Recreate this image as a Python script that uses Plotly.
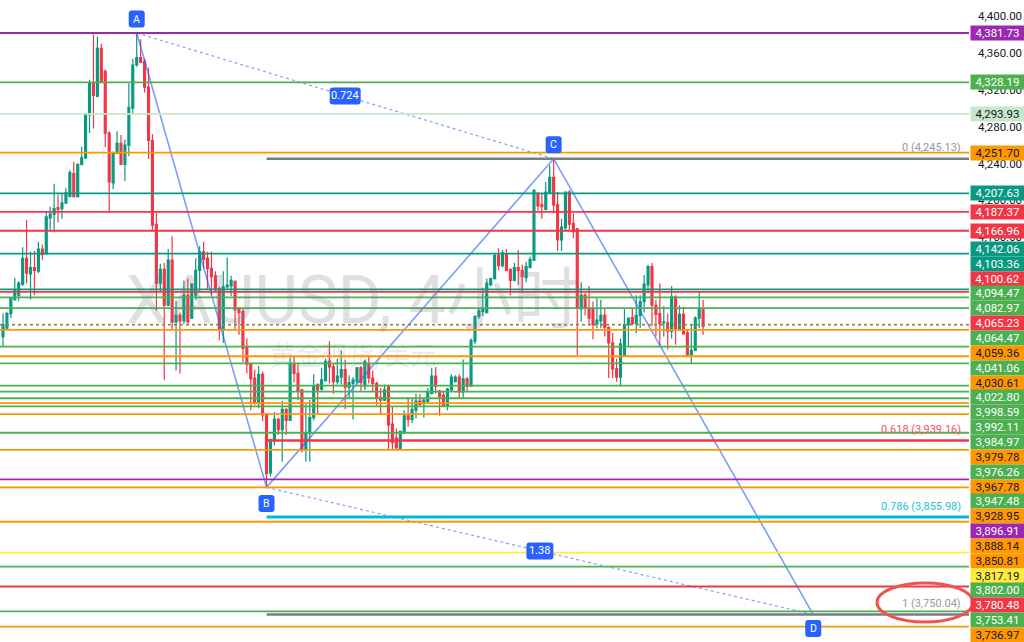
import plotly.graph_objects as go

# XAUUSD 4h candles
opens = [4052,4061,4077,4092,4097,4109,4137,4120,4127,4123,
         4147,4142,4181,4185,4192,4191,4197,4204,4229,4204,
         4239,4246,4293,4328,4313,4365,4340,4273,4219,4251,
         4262,4239,4260,4300,4347,4355,4351,4323,4265,4174,
         4110,4125,4086,4135,4068,4075,4069,4097,4072,4097,
         4124,4144,4137,4126,4118,4104,4059,4106,4107,4112,
         4083,4079,4040,4023,4007,3980,4011,3968,3904,3939,
         3962,3951,3973,3961,4023,4012,3994,3929,3947,3964,
         4000,3995,4004,4025,4019,4003,4008,4016,3997,4001,
         4003,4018,3998,4022,4007,4001,3986,3983,3998,3957,
         3942,3930,3948,3966,3962,3972,3982,3979,3981,3990,
         4009,3993,3988,3976,3994,4003,4008,3992,4006,3998,
         4047,4074,4079,4078,4108,4115,4140,4129,4142,4125,
         4113,4127,4124,4116,4127,4135,4207,4195,4190,4208,
         4225,4195,4157,4170,4209,4175,4169,4082,4097,4083,
         4082,4066,4069,4075,4062,4045,4017,4008,4031,4065,
         4073,4066,4075,4090,4108,4128,4086,4077,4067,4067,
         4058,4095,4059,4076,4056,4032,4037,4072,4082]
highs = [4077,4079,4095,4116,4112,4149,4179,4144,4145,4155,
         4152,4188,4193,4218,4206,4208,4213,4233,4242,4240,
         4258,4294,4331,4380,4378,4370,4342,4275,4253,4275,
         4271,4266,4327,4354,4381.73,4375,4354,4344,4272,4187,
         4131,4132,4147,4161,4091,4078,4113,4115,4110,4137,
         4150,4155,4144,4144,4123,4106,4123,4138,4118,4113,
         4084,4083,4050,4023,4016,4020,4014,3969,3940,3970,
         3964,3982,3974,4029,4030,4022,3995,3980,3983,4011,
         4001,4018,4028,4047,4023,4028,4037,4027,4010,4008,
         4019,4020,4027,4030,4015,4003,3996,4000,4000,3976,
         3952,3950,3972,3986,3985,3990,3990,3985,3996,4018,
         4019,3994,3993,3996,4011,4010,4011,4027,4008,4050,
         4075,4082,4105,4115,4116,4142,4148,4146,4147,4126,
         4132,4146,4130,4133,4139,4211,4209,4208,4220,4238,
         4245.13,4209,4180,4209,4211,4186,4170,4111,4099,4107,
         4090,4095,4092,4082,4063,4056,4028,4050,4082,4072,
         4082,4097,4097,4119,4130,4132,4092,4110,4085,4077,
         4107,4097,4086,4084,4059,4065,4074,4100,4092]
lows = [4041,4060,4072,4091,4091,4107,4110,4092,4097,4121,
        4135,4141,4168,4165,4176,4180,4196,4204,4203,4203,
        4238,4245,4273,4278,4313,4329,4258,4188,4212,4250,
        4238,4221,4248,4293,4345,4349,4317,4245,4168,4080,
        4101,4005,4085,4059,4015,4012,4066,4066,4071,4092,
        4101,4126,4104,4097,4101,4048,4045,4104,4096,4059,
        4054,4024,4012,3972,3978,3974,3960,3888,3900,3934,
        3945,3916,3945,3961,4002,3983,3926,3916,3916,3961,
        3967,3993,4003,4001,3990,4000,4000,3973,3985,3962,
        4001,3992,3994,4001,3992,3977,3968,3982,3929,3929,
        3930,3929,3946,3954,3958,3963,3978,3964,3980,3990,
        3990,3966,3976,3972,3992,4002,3985,3985,3992,3998,
        4044,4071,4074,4077,4107,4114,4124,4127,4124,4097,
        4112,4108,4099,4111,4126,4134,4189,4180,4189,4208,
        4186,4145,4145,4168,4168,4159,4032,4068,4075,4065,
        4049,4061,4061,4052,4007,4007,4003,3998,4030,4041,
        4065,4056,4061,4078,4099,4063,4052,4041,4052,4038,
        4050,4043,4058,4055,4030,4023,4036,4061,4054]
closes = [4065,4077,4094,4103,4110,4137,4121,4127,4124,4147,
          4141,4182,4185,4191,4190,4197,4208,4230,4204,4239,
          4246,4294,4328,4314,4365,4329,4273,4220,4251,4262,
          4239,4260,4301,4347,4355,4350,4323,4265,4173,4110,
          4125,4086,4135,4068,4075,4069,4097,4068,4109,4124,
          4144,4136,4126,4117,4103,4059,4106,4108,4113,4081,
          4078,4039,4022,4006,3980,4011,3967,3903,3940,3962,
          3951,3973,3961,4023,4012,3993,3929,3947,3964,3998,
          3994,4005,4025,4019,4003,4009,4016,3997,4002,4005,
          4018,4002,4025,4007,4001,3985,3983,3994,3956,3937,
          3931,3949,3966,3962,3973,3982,3978,3983,3992,4009,
          3998,3987,3976,3995,4008,4008,3992,4006,3998,4048,
          4074,4080,4082,4110,4115,4140,4129,4143,4124,4113,
          4127,4124,4117,4128,4136,4211,4194,4193,4209,4225,
          4195,4157,4171,4209,4174,4166,4083,4097,4083,4072,
          4065,4070,4075,4062,4045,4017,4008,4044,4065,4072,
          4066,4075,4090,4109,4128,4086,4076,4066,4068,4058,
          4095,4060,4076,4055,4032,4037,4072,4083,4063]
bars = list(range(len(opens)))

# horizontal levels with their price tag colours
level_prices = [4381.73,4328.19,4293.93,4251.70,4207.63,4187.37,4166.96,4142.06,4103.36,
                4100.62,4094.47,4082.97,4065.23,4064.47,4059.36,4041.06,4030.61,4022.80,
                3998.59,3992.11,3984.97,3979.78,3976.26,3967.78,3947.48,3928.95,3896.91,
                3888.14,3850.81,3817.19,3802.00,3780.48,3753.41,3736.97]
level_names = ["purple","green","pale","orange","teal","red","red","teal","teal",
               "red","green","green","red","green","orange","green","orange","green",
               "green","green","green","orange","green","orange","green","orange","purple",
               "orange","orange","yellow","green","red","green","orange"]
colors = {"purple": "#9C27B0", "green": "#4CAF50", "pale": "#C8E6C9", "orange": "#FF9800",
          "teal": "#089981", "red": "#F23645", "yellow": "#FFEB3B"}
dark_text = ["pale", "orange", "yellow"]
dotted_levels = [4065.23, 4064.47]

y_ticks = [4400, 4360, 4320, 4280, 4240, 4200, 4160]

# ABCD pattern
pattern_names = ["A", "B", "C", "D"]
pattern_x = [34, 67, 140, 206]
pattern_y = [4381.73, 3888.14, 4245.13, 3750.04]

# fib levels
fib_ratios = ["0", "0.618", "0.786", "1"]
fib_prices = [4245.13, 3939.16, 3855.98, 3750.04]
fib_colors = ["#787B86", "#F23645", "#00BCD4", "#787B86"]
fib_text_colors = ["#9598A1", "#F7525F", "#22C3D8", "#9598A1"]
fib_widths = [2.5, 2.5, 3, 2.5]

WIDTH, HEIGHT = 1024, 642
PLOT_W = 969
X_RANGE = [-0.76, 245.6]
Y_RANGE = [3720.2, 4417.6]
PX_PRICE = (Y_RANGE[1] - Y_RANGE[0]) / HEIGHT

BLUE = "#2962FF"


def round_box(x, y, w, h, up, color=BLUE, r=3):
    # rounded label box, sized in pixels around a data point
    y0 = up - h / 2
    y1 = up + h / 2
    x0 = -w / 2
    x1 = w / 2
    path = (f"M {x0+r} {y0} L {x1-r} {y0} Q {x1} {y0} {x1} {y0+r} L {x1} {y1-r} "
            f"Q {x1} {y1} {x1-r} {y1} L {x0+r} {y1} Q {x0} {y1} {x0} {y1-r} "
            f"L {x0} {y0+r} Q {x0} {y0} {x0+r} {y0} Z")
    return dict(type="path", xref="x", yref="y", xsizemode="pixel", ysizemode="pixel",
                xanchor=x, yanchor=y, path=path, fillcolor=color, line=dict(width=0))


def stack_tags(prices):
    # push tags down from the top, then back up from the bottom of the window
    gap = 14.85 * PX_PRICE
    order = sorted(prices, reverse=True)
    pos = []
    for p in order:
        pos.append(min(p, pos[-1] - gap) if pos else p)
    floor = Y_RANGE[0] + 7 * PX_PRICE
    for k in range(len(pos) - 1, -1, -1):
        limit = floor if k == len(pos) - 1 else pos[k + 1] + gap
        pos[k] = max(pos[k], limit)
    return dict(zip(order, pos))


fig = go.Figure()
fig.add_trace(go.Candlestick(x=bars, open=opens, high=highs, low=lows, close=closes,
                             increasing_line_color="#089981", increasing_fillcolor="#089981",
                             decreasing_line_color="#F23645", decreasing_fillcolor="#F23645",
                             increasing_line_width=1.2, decreasing_line_width=1.2,
                             whiskerwidth=0, hoverinfo="skip"))
fig.add_trace(go.Scatter(x=pattern_x, y=pattern_y, mode="lines", hoverinfo="skip",
                         line=dict(color="rgba(41,98,255,0.62)", width=1.6)))
for a, b in [(0, 2), (1, 3)]:
    fig.add_trace(go.Scatter(x=[pattern_x[a], pattern_x[b]], y=[pattern_y[a], pattern_y[b]],
                             mode="lines", hoverinfo="skip",
                             line=dict(color="rgba(41,98,255,0.6)", width=1.2, dash="dot")))

shapes = []
annotations = []

# watermark
annotations.append(dict(xref="x", yref="y", x=89, y=4092, text="XAUUSD, 4小时", showarrow=False,
                        font=dict(family="Roboto, Noto Sans CJK SC", size=67, color="rgba(120,123,134,0.24)")))
annotations.append(dict(xref="x", yref="y", x=89, y=4034, text="黄金现货/美元", showarrow=False,
                        font=dict(family="Noto Sans CJK SC", size=26, color="rgba(120,123,134,0.16)")))

for price, name in zip(level_prices, level_names):
    line = dict(color=colors[name], width=1.8)
    if price in dotted_levels:
        line = dict(color=colors[name], width=1, dash="dot")
    shapes.append(dict(type="line", xref="paper", yref="y", x0=0, x1=1, y0=price, y1=price, line=line))

for ratio, price, color, text_color, width in zip(fib_ratios, fib_prices, fib_colors, fib_text_colors, fib_widths):
    shapes.append(dict(type="line", xref="x", yref="y", x0=pattern_x[1], x1=X_RANGE[1], y0=price, y1=price,
                       line=dict(color=color, width=width)))
    annotations.append(dict(xref="paper", yref="y", x=1, y=price, xanchor="right", xshift=-6, yshift=11,
                            showarrow=False, text=f"{ratio} ({price:,.2f})",
                            font=dict(family="Roboto", size=11, color=text_color)))

# price tags on the axis
tag_pos = stack_tags(level_prices)
for price, name in zip(level_prices, level_names):
    annotations.append(dict(xref="paper", yref="y", x=1, y=tag_pos[price], xanchor="left", xshift=1,
                            width=53, height=14.4, borderpad=0, showarrow=False, bgcolor=colors[name],
                            text=f"{price:,.2f}",
                            font=dict(family="Roboto", size=11.5,
                                      color="#131722" if name in dark_text else "#FFFFFF")))

# pattern point labels
ups = [14, -16, 14, -14]
for name, x, y, up in zip(pattern_names, pattern_x, pattern_y, ups):
    shapes.append(round_box(x, y, 16, 17, up))
    annotations.append(dict(xref="x", yref="y", x=x, y=y, yshift=up, showarrow=False, text=name,
                            font=dict(family="Roboto", size=10.5, color="#FFFFFF")))

# ratio labels at the middle of the dotted legs
for text, a, b in [("0.724", 0, 2), ("1.38", 1, 3)]:
    mx = (pattern_x[a] + pattern_x[b]) / 2
    my = (pattern_y[a] + pattern_y[b]) / 2
    shapes.append(round_box(mx, my, 31 if text == "0.724" else 27, 17, 0))
    annotations.append(dict(xref="x", yref="y", x=mx, y=my, showarrow=False, text=text,
                            font=dict(family="Roboto", size=11, color="#FFFFFF")))

# red ellipse round the last fib level
shapes.append(dict(type="circle", xref="paper", yref="paper",
                   x0=877 / PLOT_W, x1=973 / PLOT_W, y0=1 - 622 / HEIGHT, y1=1 - 583 / HEIGHT,
                   line=dict(color="#EF5350", width=3)))

fig.update_layout(
    width=WIDTH, height=HEIGHT, showlegend=False,
    paper_bgcolor="white", plot_bgcolor="white",
    margin=dict(l=0, r=WIDTH - PLOT_W, t=0, b=0),
    shapes=shapes, annotations=annotations,
    xaxis=dict(range=X_RANGE, visible=False, rangeslider=dict(visible=False), fixedrange=True),
    yaxis=dict(range=Y_RANGE, side="right", tickvals=y_ticks, tickformat=",.2f", showgrid=False,
               zeroline=False, showline=False, ticks="", ticklabelstandoff=8, fixedrange=True,
               tickfont=dict(family="Roboto", size=11.5, color="#131722")),
)

fig.write_html("out.html", config=dict(displayModeBar=False),
               post_script="document.body.style.margin='0';document.body.style.overflow='hidden';")
